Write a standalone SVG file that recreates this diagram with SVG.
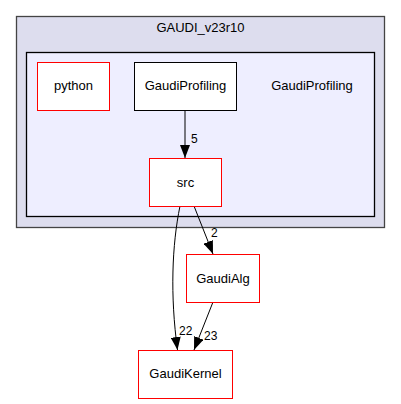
<svg xmlns="http://www.w3.org/2000/svg" width="401" height="404" viewBox="0 0 401 404">
<style>
text{font-family:"Liberation Sans",Arial,sans-serif;font-size:13px;fill:#000}
.lbl{font-size:12px}
.node{fill:#fff;stroke:#ff0000;stroke-width:1}
.edge{fill:none;stroke:#000;stroke-width:1}
</style>
<defs>
<marker id="ah" viewBox="0 0 13 10" refX="13" refY="5" markerWidth="13" markerHeight="10" markerUnits="userSpaceOnUse" orient="auto">
<path d="M0,0 L13,5 L0,10 z" fill="#000"/>
</marker>
</defs>
<rect width="401" height="404" fill="#fff"/>
<g id="cluster_outer">
<rect x="16.5" y="16.5" width="368" height="211" fill="#ddddee" stroke="#444444" stroke-width="1.3"/>
<text x="200.5" y="32" text-anchor="middle">GAUDI_v23r10</text>
</g>
<g id="cluster_inner">
<rect x="26.5" y="52.5" width="348" height="164" fill="#eeeeff" stroke="#000" stroke-width="1.3"/>
<text x="312" y="90" text-anchor="middle">GaudiProfiling</text>
</g>
<g id="connectors">
<path class="edge" d="M185,110 L185,158" marker-end="url(#ah)"/>
<text class="lbl" x="191" y="143">5</text>
<path class="edge" d="M180,206 C172,245 170,295 177.5,350" marker-end="url(#ah)"/>
<text class="lbl" x="179" y="335">22</text>
<path class="edge" d="M194,206 L213,254" marker-end="url(#ah)"/>
<text class="lbl" x="211" y="237">2</text>
<path class="edge" d="M213,302 L194,350" marker-end="url(#ah)"/>
<text class="lbl" x="204" y="340">23</text>
</g>
<g id="node_python">
<rect class="node" x="37.5" y="62.5" width="72" height="48"/>
<text x="73.5" y="90" text-anchor="middle">python</text>
</g>
<g id="node_GaudiProfiling">
<rect x="134.5" y="62.5" width="102" height="48" fill="#fff" stroke="#000"/>
<text x="185.5" y="90" text-anchor="middle">GaudiProfiling</text>
</g>
<g id="node_src">
<rect class="node" x="149.5" y="158.5" width="72" height="48"/>
<text x="185.5" y="187" text-anchor="middle">src</text>
</g>
<g id="node_GaudiAlg">
<rect class="node" x="186.5" y="254.5" width="73" height="48"/>
<text x="223" y="283" text-anchor="middle">GaudiAlg</text>
</g>
<g id="node_GaudiKernel">
<rect class="node" x="138.5" y="350.5" width="94" height="48"/>
<text x="185.5" y="378" text-anchor="middle">GaudiKernel</text>
</g>
</svg>
